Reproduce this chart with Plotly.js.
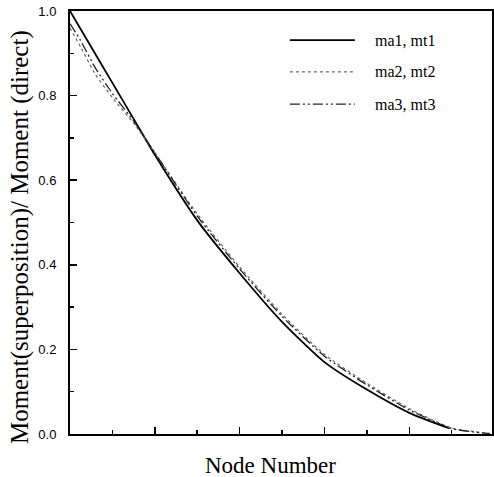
<!DOCTYPE html>
<html><head><meta charset="utf-8">
<script src="https://cdn.plot.ly/plotly-3.0.1.min.js"></script>
<style>html,body{margin:0;padding:0;background:#fff}#chart{width:494px;height:477px}</style>
</head><body><div id="chart"></div>
<script>
// Node positions (x axis has no labels; 0..10 span)
const nodesSolid = [0, 0.5, 1, 1.5, 2, 3, 4, 5, 6, 7, 8, 8.95];
const ma1 = [1.0, 0.915, 0.83, 0.745, 0.66, 0.505, 0.38, 0.265, 0.17, 0.105, 0.05, 0.013];
const nodesOther = [0, 0.25, 0.6, 1, 1.5, 2, 3, 4, 5, 6, 7, 8, 9, 9.5, 9.9];
const ma2 = [0.96, 0.915, 0.85, 0.795, 0.735, 0.665, 0.52, 0.395, 0.283, 0.188, 0.12, 0.06, 0.014, 0.006, 0.001];
const ma3 = [0.97, 0.93, 0.865, 0.805, 0.74, 0.665, 0.515, 0.39, 0.278, 0.184, 0.116, 0.057, 0.013, 0.005, 0.001];
const seriesNames = ['ma1, mt1', 'ma2, mt2', 'ma3, mt3'];
const yTicks = [0, 0.2, 0.4, 0.6, 0.8, 1.0];
const yTickText = ['0.0', '0.2', '0.4', '0.6', '0.8', '1.0'];
const xTitle = 'Node Number';
const yTitle = 'Moment(superposition)/ Moment (direct)';

const styles = [
  {color: '#000', width: 1.8, dash: 'solid'},
  {color: '#666', width: 1.2, dash: 'dot'},
  {color: '#222', width: 1.3, dash: '10px,3px,2px,3px,2px,3px'}
];

const traces = [
  {x: nodesSolid, y: ma1, name: seriesNames[0], mode: 'lines', line: Object.assign({shape: 'spline', smoothing: 0.6}, styles[0]), showlegend: false},
  {x: nodesOther, y: ma2, name: seriesNames[1], mode: 'lines', line: Object.assign({shape: 'spline', smoothing: 0.6}, styles[1]), showlegend: false},
  {x: nodesOther, y: ma3, name: seriesNames[2], mode: 'lines', line: Object.assign({shape: 'spline', smoothing: 0.6}, styles[2]), showlegend: false}
];

const serif = 'Liberation Serif, Times New Roman, serif';
// custom legend (paper coordinates)
const legY = [0.931, 0.856, 0.780];
const shapes = [];
const annotations = [];
seriesNames.forEach((n, i) => {
  shapes.push({type: 'line', xref: 'paper', yref: 'paper', x0: 0.521, x1: 0.675, y0: legY[i], y1: legY[i], line: styles[i]});
  annotations.push({xref: 'paper', yref: 'paper', x: 0.718, y: legY[i], xanchor: 'left', yanchor: 'middle', showarrow: false, text: n,
    font: {family: serif, size: 16, color: '#000'}});
});
// axis titles
annotations.push({xref: 'paper', yref: 'paper', x: -0.118, y: 0.466, xanchor: 'center', yanchor: 'middle', textangle: -90,
  showarrow: false, text: yTitle, font: {family: serif, size: 25, color: '#000'}});
annotations.push({xref: 'paper', yref: 'paper', x: 0.474, y: -0.075, xanchor: 'center', yanchor: 'middle',
  showarrow: false, text: xTitle, font: {family: serif, size: 23, color: '#000'}});

const layout = {
  width: 494, height: 477,
  margin: {l: 70, r: 2, t: 11, b: 43, pad: 0},
  paper_bgcolor: '#fff', plot_bgcolor: '#fff',
  showlegend: false,
  xaxis: {
    range: [0, 9.95], showgrid: false, zeroline: false,
    showline: true, linecolor: '#000', linewidth: 2, mirror: true,
    ticks: 'inside', tickvals: [2, 4, 6, 8], ticklen: 7, tickwidth: 1.5, tickcolor: '#000',
    minor: {ticks: 'inside', tickvals: [1, 3, 5, 7, 9], ticklen: 4, tickwidth: 1.5, tickcolor: '#000'},
    showticklabels: false,
    automargin: false
  },
  yaxis: {
    range: [0, 1.0], showgrid: false, zeroline: false,
    showline: true, linecolor: '#000', linewidth: 2, mirror: true,
    ticks: 'inside', tickvals: yTicks, ticktext: yTickText, ticklen: 7, tickwidth: 1.5, tickcolor: '#000',
    minor: {ticks: 'inside', tickvals: [0.1, 0.3, 0.5, 0.7, 0.9], ticklen: 4, tickwidth: 1.5, tickcolor: '#000'},
    ticklabelstandoff: 9,
    tickfont: {family: 'Liberation Sans, Arial, sans-serif', size: 13, color: '#000'},
    automargin: false
  },
  shapes: shapes,
  annotations: annotations
};

Plotly.newPlot('chart', traces, layout, {staticPlot: true, displayModeBar: false});
</script>
</body></html>
